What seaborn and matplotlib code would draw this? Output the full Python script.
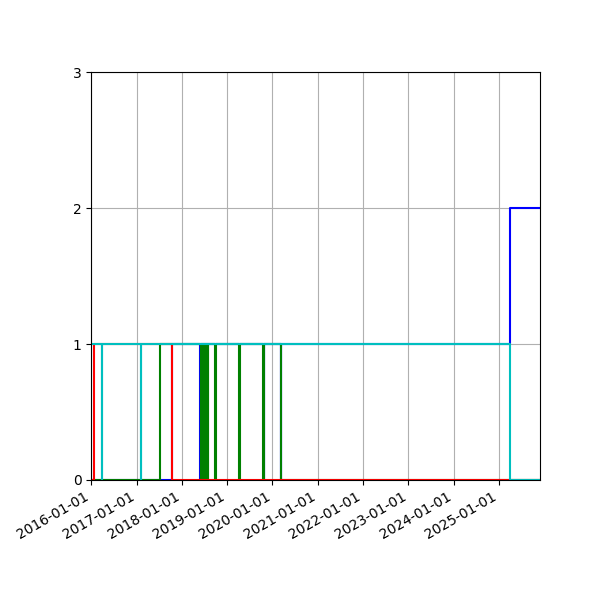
import pandas as pd
import matplotlib
matplotlib.use("Agg")
import matplotlib.pyplot as plt
import matplotlib.dates as mdates
import seaborn as sns

# step series: (date, value) pairs, value holds until next date
blue_dates = ["2016-01-01", "2017-10-14", "2018-05-30", "2018-06-01",
              "2019-10-24", "2019-10-26", "2020-03-07", "2020-03-09",
              "2025-03-29", "2025-11-26"]
blue_vals = [0, 1, 0, 1, 0, 1, 0, 1, 2, 2]

green_dates = ["2016-01-01", "2017-07-05",
               "2018-06-01", "2018-06-05", "2018-06-09", "2018-06-13",
               "2018-06-17", "2018-06-21", "2018-06-25", "2018-06-29",
               "2018-07-03", "2018-07-07", "2018-07-11", "2018-07-15",
               "2018-07-19", "2018-07-23", "2018-07-27", "2018-07-31",
               "2018-09-26", "2018-10-03", "2019-04-07", "2019-04-14",
               "2019-10-18", "2019-10-25", "2020-03-06", "2025-11-26"]
green_vals = [0, 1,
              0, 1, 0, 1, 0, 1, 0, 1, 0, 1, 0, 1, 0, 1, 0, 1,
              0, 1, 0, 1, 0, 1, 0, 0]

red_dates = ["2016-01-01", "2016-01-22", "2017-10-14", "2025-11-26"]
red_vals = [0, 1, 0, 0]

cyan_dates = ["2016-01-01", "2016-03-28", "2016-03-30", "2017-02-06",
              "2017-02-08", "2025-03-30", "2025-11-26"]
cyan_vals = [1, 0, 1, 0, 1, 0, 0]

series = [
    (blue_dates, blue_vals, "b"),
    (green_dates, green_vals, "g"),
    (red_dates, red_vals, "r"),
    (cyan_dates, cyan_vals, "c"),
]

fig, ax = plt.subplots(figsize=(6, 6), dpi=100)
for dates, vals, col in series:
    sns.lineplot(x=pd.to_datetime(dates), y=vals, color=col, linewidth=1.5,
                 drawstyle="steps-post", estimator=None, ax=ax)

ax.set_xlim(pd.Timestamp("2016-01-01"), pd.Timestamp("2025-11-26"))
ax.set_ylim(0, 3)
ax.set_yticks([0, 1, 2, 3])
ax.xaxis.set_major_locator(mdates.YearLocator())
ax.xaxis.set_major_formatter(mdates.DateFormatter("%Y-%m-%d"))
ax.grid(True)
ax.set_axisbelow(True)
ax.set_xlabel("")
ax.set_ylabel("")

fig.autofmt_xdate()
fig.subplots_adjust(left=0.152, right=0.9, top=0.88, bottom=0.2)
fig.savefig("out.png")
plt.close()
